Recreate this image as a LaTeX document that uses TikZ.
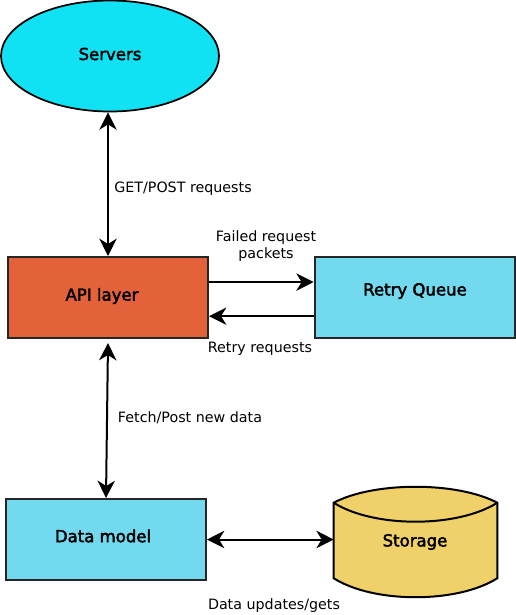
\documentclass[tikz,border=0pt]{standalone}
\usepackage{fontspec}
\setmainfont{DejaVu Sans}
\newfontfamily\titlefont[FakeBold=2.5]{DejaVu Sans}
\usetikzlibrary{arrows.meta, positioning, shapes.geometric, calc}
\definecolor{srvcyan}{HTML}{10E2F4}
\definecolor{apiorange}{HTML}{E4623A}
\definecolor{boxblue}{HTML}{72D9EF}
\definecolor{storeyellow}{HTML}{F0D068}
\tikzset{
    >=Stealth,
    flow_title/.style={
        font=\titlefont\fontsize{12.4}{14}\selectfont
    },
    flow_server/.style={
        ellipse,
        draw=black,
        fill=srvcyan,
        line width=1.3pt,
        minimum width=163.5pt,
        minimum height=83.25pt,
        flow_title
    },
    flow_box/.style={
        rectangle,
        draw=black!85,
        line width=1.5pt,
        minimum width=150pt,
        minimum height=60.75pt,
        flow_title
    },
    flow_store/.style={
        rectangle,
        minimum width=122.25pt,
        minimum height=82.5pt,
        flow_title
    },
    flow_arrow/.style={
        {Stealth[length=13pt, width=13pt, inset=4pt]}-{Stealth[length=13pt, width=13pt, inset=4pt]},
        line width=1.5pt
    },
    flow_one_way/.style={
        -{Stealth[length=13pt, width=13pt, inset=4pt]},
        line width=1.5pt
    },
    flow_label/.style={
        font=\fontsize{10.7}{12.5}\selectfont,
        align=center,
        inner sep=0pt
    }
}

\begin{document}
\begin{tikzpicture}[x=0.75pt, y=-0.75pt]
\useasboundingbox (0,0) rectangle (515,615);

% nodes
\node[flow_server] (Servers) at (110,56) {};
\node[flow_title] (lblServers) at (110,54) {Servers};
\node[flow_box, fill=apiorange] (API) at (108,297.5) {};
\node[flow_title] (lblAPI) at (102,296) {API layer};
\node[flow_box, fill=boxblue, right=78.5pt of API] (Retry) {};
\node[flow_title] (lblQueue) at (415,291) {Retry Queue};
\node[flow_box, fill=boxblue] (Model) at (106,539.5) {};
\node[flow_title] (lblModel) at (103,536) {Data model};
\node[flow_store] (Storage) at (415.5,542) {};

% storage drum
\draw[fill=storeyellow, line width=1.5pt]
  ($(Storage.north west)+(0,16)$)
    .. controls +(40,-21.3) and +(-40,-21.3) .. ($(Storage.north east)+(0,16)$)
  -- ($(Storage.south east)+(0,-19)$)
    .. controls +(-40,25.3) and +(40,25.3) .. ($(Storage.south west)+(0,-19)$)
  -- cycle;
\draw[line width=1.5pt]
  ($(Storage.north west)+(0,16)$)
    .. controls +(40,25.3) and +(-40,25.3) .. ($(Storage.north east)+(0,16)$);
\node[flow_title] (lblStorage) at (415,542) {Storage};

% connectors
\draw[flow_arrow] (Servers.south -| API.north) -- (API.north);
\draw[flow_one_way] ([yshift=11.6pt]API.east) -- ([yshift=11.6pt]API.east -| Retry.west);
\draw[flow_one_way] ([yshift=-14pt]Retry.west) -- ([yshift=-14pt]Retry.west -| API.east);
\draw[flow_arrow] ([yshift=-3pt]API.south) -- (Model.north);
\draw[flow_arrow] (Model.east) -- (Model.east -| Storage.west);

% labels
\node[flow_label] (lblGet) at (183,189) {GET/POST requests};
\node[flow_label] (lblFail) at (266,246) {Failed request\\packets};
\node[flow_label] (lblRetry) at (260,349) {Retry requests};
\node[flow_label] (lblFetch) at (190,418) {Fetch/Post new data};
\node[flow_label] (lblData) at (274,606) {Data updates/gets};

\end{tikzpicture}
\end{document}
